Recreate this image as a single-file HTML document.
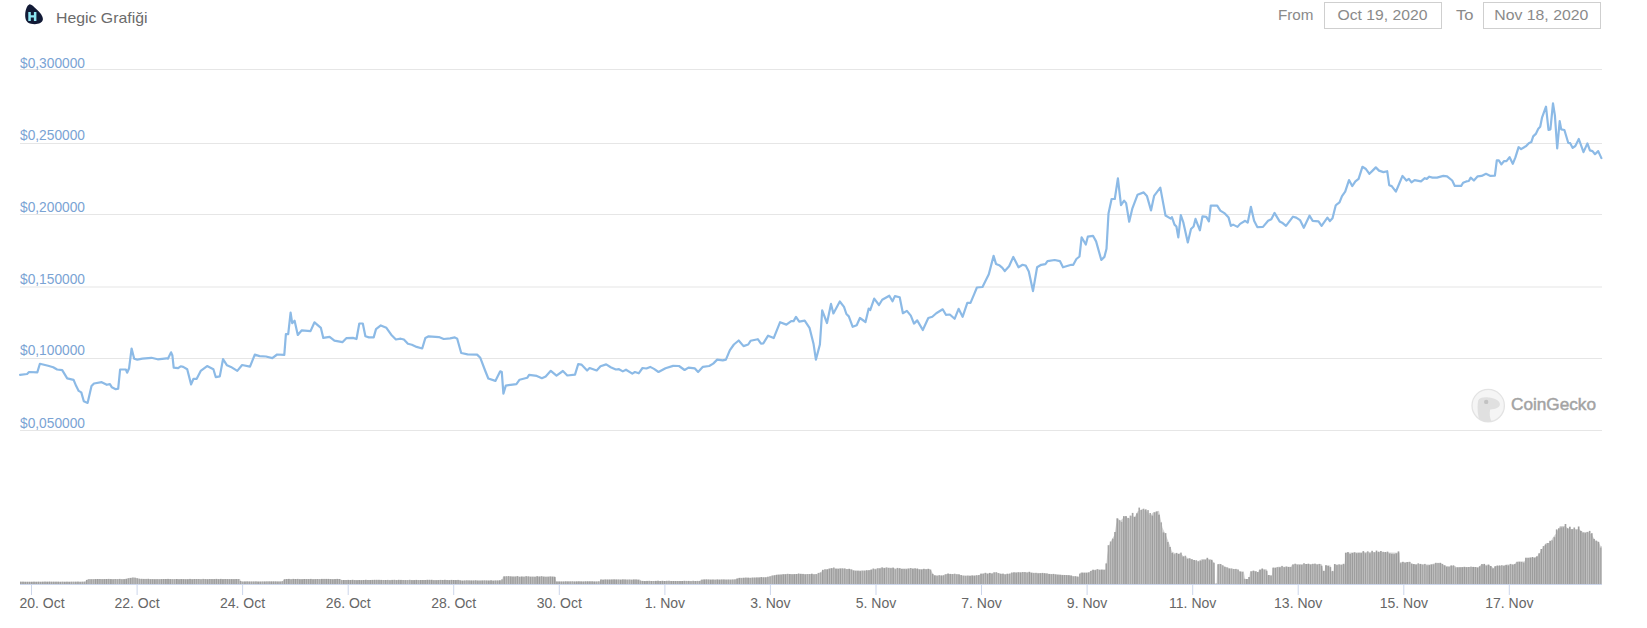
<!DOCTYPE html>
<html><head><meta charset="utf-8"><title>Hegic Grafiği</title>
<style>
html,body{margin:0;padding:0;background:#fff;}
body{width:1647px;height:628px;position:relative;overflow:hidden;font-family:"Liberation Sans", sans-serif;}
.t{position:absolute;white-space:nowrap;}
.box{position:absolute;top:2px;height:25px;width:116px;border:1px solid #cfcfcf;}
</style></head><body>
<svg width="60" height="30" style="position:absolute;left:0;top:0">
<path d="M29.3,4.4 C27.4,5 25.4,9.5 25.2,14 C25,18.5 25.8,22.6 31,23.8 C36,25 42.4,23.8 42.9,19.6 C43.3,16.2 40,12.5 36.5,9.3 C33.8,6.8 31.2,4 29.3,4.4 Z" fill="#121a36"/>
<path d="M28.3,11.9 h2.5 v3.4 h3.1 v-3.4 h2.5 v9.1 h-2.5 v-3.5 h-3.1 v3.5 h-2.5 Z" fill="#8fe6f3"/>
</svg>
<svg width="1647" height="40" style="position:absolute;left:0;top:0" font-family='"Liberation Sans", sans-serif'>
<text x="56" y="22.8" font-size="15" fill="#6b6b6b" textLength="91.5" lengthAdjust="spacingAndGlyphs">Hegic Grafiği</text>
<text x="1278" y="20" font-size="15" fill="#8a8a8a" textLength="35.5" lengthAdjust="spacingAndGlyphs">From</text>
<text x="1337.5" y="20" font-size="15" fill="#8a8a8a" textLength="90" lengthAdjust="spacingAndGlyphs">Oct 19, 2020</text>
<text x="1456" y="20" font-size="15" fill="#8a8a8a" textLength="17.5" lengthAdjust="spacingAndGlyphs">To</text>
<text x="1494.3" y="20" font-size="15" fill="#8a8a8a" textLength="94" lengthAdjust="spacingAndGlyphs">Nov 18, 2020</text>
</svg>
<div class="box" style="left:1324px"></div>
<div class="box" style="left:1483px"></div>
<svg width="1647" height="628" viewBox="0 0 1647 628" style="position:absolute;left:0;top:0" font-family='"Liberation Sans", sans-serif'>
<rect x="20" y="69.0" width="1582" height="1" fill="#e6e6e6"/>
<rect x="20" y="143.0" width="1582" height="1" fill="#e6e6e6"/>
<rect x="20" y="214.0" width="1582" height="1" fill="#e6e6e6"/>
<rect x="20" y="286.5" width="1582" height="1" fill="#e6e6e6"/>
<rect x="20" y="358.0" width="1582" height="1" fill="#e6e6e6"/>
<rect x="20" y="430.0" width="1582" height="1" fill="#e6e6e6"/>
<text x="20" y="67.6" font-size="15.3" fill="#7aa3d4" textLength="65" lengthAdjust="spacingAndGlyphs">$0,300000</text>
<text x="20" y="139.6" font-size="15.3" fill="#7aa3d4" textLength="65" lengthAdjust="spacingAndGlyphs">$0,250000</text>
<text x="20" y="211.7" font-size="15.3" fill="#7aa3d4" textLength="65" lengthAdjust="spacingAndGlyphs">$0,200000</text>
<text x="20" y="283.6" font-size="15.3" fill="#7aa3d4" textLength="65" lengthAdjust="spacingAndGlyphs">$0,150000</text>
<text x="20" y="355.0" font-size="15.3" fill="#7aa3d4" textLength="65" lengthAdjust="spacingAndGlyphs">$0,100000</text>
<text x="20" y="427.6" font-size="15.3" fill="#7aa3d4" textLength="65" lengthAdjust="spacingAndGlyphs">$0,050000</text>
<g>
<circle cx="1488.2" cy="405.6" r="16.2" fill="#f5f5f5" stroke="#e3e3e3" stroke-width="1.3"/>
<path d="M1478.2,400.5 C1479.5,397.2 1484.5,397 1489,397.6 C1494,398.2 1499.2,400.2 1499.9,403.8 C1500.4,407 1496,409.2 1490.2,409.6 C1489.2,413.5 1489.8,418 1491.6,421.6 C1487.5,422.6 1482,421.6 1479.2,419 C1477.4,414 1477.2,405 1478.2,400.5 Z" fill="#e0e0e0"/>
<circle cx="1486.2" cy="401.9" r="2.2" fill="#c2c2c2"/>
<text x="1511" y="410.3" font-size="16.3" fill="#a3a3a3" stroke="#a3a3a3" stroke-width="0.45" textLength="85" lengthAdjust="spacingAndGlyphs">CoinGecko</text>
</g>
<polygon points="20.0,584.0 20.0,581.7 85.0,581.7 88.0,579.1 125.0,579.1 130.0,577.8 135.0,577.4 140.0,579.0 170.0,579.1 240.0,579.1 241.0,581.5 282.0,581.5 285.0,579.1 340.0,579.1 342.0,580.0 460.0,580.0 461.0,580.5 502.0,580.5 503.0,576.5 555.0,576.5 556.0,581.4 600.0,581.4 601.0,579.6 640.0,579.6 641.0,580.9 700.0,580.9 701.0,579.6 735.0,579.6 740.0,577.8 750.0,577.7 768.0,577.0 777.0,574.6 786.0,574.0 816.0,574.0 817.0,574.6 823.0,570.4 830.0,568.2 841.0,568.2 845.0,569.1 852.0,569.1 853.0,570.4 868.0,570.4 874.0,569.1 881.0,567.7 892.0,567.7 896.0,568.6 914.0,568.6 916.0,569.1 930.0,569.1 932.0,571.9 934.0,575.5 943.0,575.5 945.0,574.0 959.0,574.0 961.0,575.5 978.0,575.5 983.0,573.3 992.0,573.3 994.0,571.9 1001.0,574.0 1009.0,574.0 1014.0,572.2 1029.0,572.2 1034.0,572.8 1040.0,573.1 1054.3,574.2 1068.7,575.2 1079.4,577.1 1080.1,573.1 1080.9,572.4 1088.7,572.4 1091.6,570.5 1095.9,569.5 1105.9,569.5 1107.1,555.9 1108.8,545.9 1111.7,539.4 1114.5,535.1 1116.0,525.1 1118.1,518.3 1120.3,520.8 1125.3,516.1 1128.9,519.3 1131.7,515.5 1134.6,517.2 1137.5,511.5 1142.5,508.9 1146.8,511.5 1150.4,515.8 1153.2,512.2 1159.0,510.7 1160.4,517.9 1162.6,527.9 1165.4,534.1 1167.6,539.4 1170.4,546.6 1171.9,551.6 1176.2,553.7 1180.5,553.3 1183.3,555.9 1190.5,559.0 1197.7,561.3 1202.0,559.0 1210.6,559.0 1214.2,563.1 1215.0,584.0 1216.6,584.0 1217.0,564.5 1219.9,563.8 1224.9,566.6 1230.7,568.5 1237.8,569.5 1240.0,571.4 1243.8,571.4 1245.0,579.0 1249.0,579.0 1250.2,571.0 1256.6,571.0 1257.9,573.3 1259.1,569.2 1266.8,569.2 1267.4,575.2 1271.9,575.2 1272.5,568.0 1278.3,566.7 1291.0,566.7 1292.3,564.1 1321.6,564.1 1322.9,570.8 1324.8,570.8 1325.2,565.4 1330.5,565.4 1331.2,571.4 1333.7,571.4 1334.1,564.6 1344.6,564.6 1345.8,552.7 1370.0,551.9 1399.4,552.7 1400.0,562.1 1410.9,562.1 1411.0,564.1 1430.0,564.5 1435.1,563.2 1441.5,563.2 1442.7,564.8 1446.6,566.1 1455.5,566.1 1456.0,567.1 1478.4,567.1 1481.0,564.8 1488.6,564.8 1493.7,568.0 1496.2,566.1 1501.3,566.1 1506.4,564.5 1514.1,564.5 1516.6,561.6 1524.3,561.6 1526.8,557.8 1534.5,557.8 1538.3,555.2 1542.1,548.9 1545.9,543.1 1549.7,543.1 1552.9,537.4 1556.1,533.6 1559.9,525.9 1565.0,525.9 1568.9,529.1 1575.2,529.1 1579.0,528.9 1582.9,531.9 1588.0,531.9 1591.8,534.8 1595.6,541.2 1598.2,541.2 1600.7,546.3 1602.0,546.3 1602.0,584.0" fill="#d2d2d2"/>
<g fill="#a0a0a0"><rect x="20.00" y="581.7" width="1.65" height="2.3" fill="#a0a0a0"/><rect x="22.20" y="581.7" width="1.65" height="2.3" fill="#9c9c9c"/><rect x="24.39" y="581.8" width="1.65" height="2.2" fill="#9e9e9e"/><rect x="26.59" y="581.8" width="1.65" height="2.2" fill="#9e9e9e"/><rect x="28.79" y="581.8" width="1.65" height="2.2" fill="#9e9e9e"/><rect x="30.99" y="581.8" width="1.65" height="2.2" fill="#9c9c9c"/><rect x="33.18" y="581.7" width="1.65" height="2.3" fill="#9c9c9c"/><rect x="35.38" y="581.8" width="1.65" height="2.2" fill="#9e9e9e"/><rect x="37.58" y="581.7" width="1.65" height="2.3" fill="#9e9e9e"/><rect x="39.78" y="581.8" width="1.65" height="2.2" fill="#a0a0a0"/><rect x="41.97" y="581.7" width="1.65" height="2.3" fill="#9e9e9e"/><rect x="44.17" y="581.6" width="1.65" height="2.4" fill="#9e9e9e"/><rect x="46.37" y="581.7" width="1.65" height="2.3" fill="#9c9c9c"/><rect x="48.56" y="581.6" width="1.65" height="2.4" fill="#9c9c9c"/><rect x="50.76" y="581.7" width="1.65" height="2.3" fill="#a0a0a0"/><rect x="52.96" y="581.7" width="1.65" height="2.3" fill="#a0a0a0"/><rect x="55.16" y="581.7" width="1.65" height="2.3" fill="#9e9e9e"/><rect x="57.35" y="581.7" width="1.65" height="2.3" fill="#a0a0a0"/><rect x="59.55" y="581.8" width="1.65" height="2.2" fill="#9e9e9e"/><rect x="61.75" y="581.7" width="1.65" height="2.3" fill="#a4a4a4"/><rect x="63.94" y="581.8" width="1.65" height="2.2" fill="#9c9c9c"/><rect x="66.14" y="581.7" width="1.65" height="2.3" fill="#9e9e9e"/><rect x="68.34" y="581.8" width="1.65" height="2.2" fill="#9e9e9e"/><rect x="70.54" y="581.7" width="1.65" height="2.3" fill="#a4a4a4"/><rect x="72.73" y="581.7" width="1.65" height="2.3" fill="#a8a8a8"/><rect x="74.93" y="581.7" width="1.65" height="2.3" fill="#a0a0a0"/><rect x="77.13" y="581.6" width="1.65" height="2.4" fill="#a0a0a0"/><rect x="79.33" y="581.8" width="1.65" height="2.2" fill="#a4a4a4"/><rect x="81.52" y="581.7" width="1.65" height="2.3" fill="#a4a4a4"/><rect x="83.72" y="581.6" width="1.65" height="2.4" fill="#a4a4a4"/><rect x="85.92" y="579.9" width="1.65" height="4.1" fill="#9c9c9c"/><rect x="88.11" y="579.3" width="1.65" height="4.7" fill="#a8a8a8"/><rect x="90.31" y="579.3" width="1.65" height="4.7" fill="#a4a4a4"/><rect x="92.51" y="579.3" width="1.65" height="4.7" fill="#a8a8a8"/><rect x="94.71" y="579.1" width="1.65" height="4.9" fill="#9c9c9c"/><rect x="96.90" y="579.0" width="1.65" height="5.0" fill="#9e9e9e"/><rect x="99.10" y="579.0" width="1.65" height="5.0" fill="#a4a4a4"/><rect x="101.30" y="579.2" width="1.65" height="4.8" fill="#a4a4a4"/><rect x="103.49" y="579.1" width="1.65" height="4.9" fill="#9e9e9e"/><rect x="105.69" y="579.0" width="1.65" height="5.0" fill="#9c9c9c"/><rect x="107.89" y="578.9" width="1.65" height="5.1" fill="#a4a4a4"/><rect x="110.09" y="579.1" width="1.65" height="4.9" fill="#9c9c9c"/><rect x="112.28" y="579.3" width="1.65" height="4.7" fill="#a4a4a4"/><rect x="114.48" y="579.0" width="1.65" height="5.0" fill="#a8a8a8"/><rect x="116.68" y="579.2" width="1.65" height="4.8" fill="#a8a8a8"/><rect x="118.88" y="578.9" width="1.65" height="5.1" fill="#a4a4a4"/><rect x="121.07" y="579.3" width="1.65" height="4.7" fill="#a8a8a8"/><rect x="123.27" y="579.2" width="1.65" height="4.8" fill="#9e9e9e"/><rect x="125.47" y="578.9" width="1.65" height="5.1" fill="#9c9c9c"/><rect x="127.66" y="578.3" width="1.65" height="5.7" fill="#a4a4a4"/><rect x="129.86" y="578.0" width="1.65" height="6.0" fill="#a0a0a0"/><rect x="132.06" y="577.6" width="1.65" height="6.4" fill="#a8a8a8"/><rect x="134.26" y="577.8" width="1.65" height="6.2" fill="#a8a8a8"/><rect x="136.45" y="578.3" width="1.65" height="5.7" fill="#a4a4a4"/><rect x="138.65" y="578.7" width="1.65" height="5.3" fill="#a8a8a8"/><rect x="140.85" y="578.8" width="1.65" height="5.2" fill="#a4a4a4"/><rect x="143.04" y="578.9" width="1.65" height="5.1" fill="#a4a4a4"/><rect x="145.24" y="578.9" width="1.65" height="5.1" fill="#a8a8a8"/><rect x="147.44" y="578.8" width="1.65" height="5.2" fill="#a0a0a0"/><rect x="149.64" y="579.2" width="1.65" height="4.8" fill="#a0a0a0"/><rect x="151.83" y="579.2" width="1.65" height="4.8" fill="#a0a0a0"/><rect x="154.03" y="579.3" width="1.65" height="4.7" fill="#9e9e9e"/><rect x="156.23" y="579.2" width="1.65" height="4.8" fill="#a4a4a4"/><rect x="158.43" y="579.3" width="1.65" height="4.7" fill="#a8a8a8"/><rect x="160.62" y="579.1" width="1.65" height="4.9" fill="#9e9e9e"/><rect x="162.82" y="579.0" width="1.65" height="5.0" fill="#a0a0a0"/><rect x="165.02" y="579.0" width="1.65" height="5.0" fill="#9e9e9e"/><rect x="167.21" y="578.9" width="1.65" height="5.1" fill="#9c9c9c"/><rect x="169.41" y="579.1" width="1.65" height="4.9" fill="#9e9e9e"/><rect x="171.61" y="579.2" width="1.65" height="4.8" fill="#a8a8a8"/><rect x="173.81" y="579.2" width="1.65" height="4.8" fill="#a8a8a8"/><rect x="176.00" y="579.0" width="1.65" height="5.0" fill="#9c9c9c"/><rect x="178.20" y="579.3" width="1.65" height="4.7" fill="#a0a0a0"/><rect x="180.40" y="579.1" width="1.65" height="4.9" fill="#9c9c9c"/><rect x="182.59" y="579.2" width="1.65" height="4.8" fill="#9c9c9c"/><rect x="184.79" y="579.3" width="1.65" height="4.7" fill="#9e9e9e"/><rect x="186.99" y="579.3" width="1.65" height="4.7" fill="#9c9c9c"/><rect x="189.19" y="578.9" width="1.65" height="5.1" fill="#9e9e9e"/><rect x="191.38" y="579.3" width="1.65" height="4.7" fill="#a0a0a0"/><rect x="193.58" y="579.0" width="1.65" height="5.0" fill="#a0a0a0"/><rect x="195.78" y="579.0" width="1.65" height="5.0" fill="#a4a4a4"/><rect x="197.98" y="579.0" width="1.65" height="5.0" fill="#a8a8a8"/><rect x="200.17" y="579.3" width="1.65" height="4.7" fill="#a8a8a8"/><rect x="202.37" y="578.9" width="1.65" height="5.1" fill="#a8a8a8"/><rect x="204.57" y="579.1" width="1.65" height="4.9" fill="#a4a4a4"/><rect x="206.76" y="579.3" width="1.65" height="4.7" fill="#9c9c9c"/><rect x="208.96" y="579.0" width="1.65" height="5.0" fill="#a4a4a4"/><rect x="211.16" y="579.1" width="1.65" height="4.9" fill="#a0a0a0"/><rect x="213.36" y="579.1" width="1.65" height="4.9" fill="#a0a0a0"/><rect x="215.55" y="578.9" width="1.65" height="5.1" fill="#9e9e9e"/><rect x="217.75" y="579.2" width="1.65" height="4.8" fill="#9e9e9e"/><rect x="219.95" y="578.9" width="1.65" height="5.1" fill="#9e9e9e"/><rect x="222.14" y="579.2" width="1.65" height="4.8" fill="#9c9c9c"/><rect x="224.34" y="579.0" width="1.65" height="5.0" fill="#a4a4a4"/><rect x="226.54" y="579.1" width="1.65" height="4.9" fill="#a0a0a0"/><rect x="228.74" y="579.2" width="1.65" height="4.8" fill="#a0a0a0"/><rect x="230.93" y="579.1" width="1.65" height="4.9" fill="#9e9e9e"/><rect x="233.13" y="579.2" width="1.65" height="4.8" fill="#a0a0a0"/><rect x="235.33" y="579.0" width="1.65" height="5.0" fill="#a0a0a0"/><rect x="237.53" y="579.0" width="1.65" height="5.0" fill="#a8a8a8"/><rect x="239.72" y="581.0" width="1.65" height="3.0" fill="#a0a0a0"/><rect x="241.92" y="581.6" width="1.65" height="2.4" fill="#a8a8a8"/><rect x="244.12" y="581.5" width="1.65" height="2.5" fill="#9c9c9c"/><rect x="246.31" y="581.4" width="1.65" height="2.6" fill="#a4a4a4"/><rect x="248.51" y="581.5" width="1.65" height="2.5" fill="#a0a0a0"/><rect x="250.71" y="581.5" width="1.65" height="2.5" fill="#a4a4a4"/><rect x="252.91" y="581.5" width="1.65" height="2.5" fill="#a4a4a4"/><rect x="255.10" y="581.4" width="1.65" height="2.6" fill="#a4a4a4"/><rect x="257.30" y="581.6" width="1.65" height="2.4" fill="#9c9c9c"/><rect x="259.50" y="581.6" width="1.65" height="2.4" fill="#a0a0a0"/><rect x="261.69" y="581.5" width="1.65" height="2.5" fill="#a8a8a8"/><rect x="263.89" y="581.5" width="1.65" height="2.5" fill="#9e9e9e"/><rect x="266.09" y="581.4" width="1.65" height="2.6" fill="#a8a8a8"/><rect x="268.29" y="581.4" width="1.65" height="2.6" fill="#a4a4a4"/><rect x="270.48" y="581.4" width="1.65" height="2.6" fill="#9c9c9c"/><rect x="272.68" y="581.4" width="1.65" height="2.6" fill="#9c9c9c"/><rect x="274.88" y="581.4" width="1.65" height="2.6" fill="#a0a0a0"/><rect x="277.08" y="581.5" width="1.65" height="2.5" fill="#a0a0a0"/><rect x="279.27" y="581.5" width="1.65" height="2.5" fill="#a4a4a4"/><rect x="281.47" y="581.2" width="1.65" height="2.8" fill="#a8a8a8"/><rect x="283.67" y="579.3" width="1.65" height="4.7" fill="#9c9c9c"/><rect x="285.86" y="579.0" width="1.65" height="5.0" fill="#a0a0a0"/><rect x="288.06" y="578.9" width="1.65" height="5.1" fill="#9c9c9c"/><rect x="290.26" y="579.3" width="1.65" height="4.7" fill="#a8a8a8"/><rect x="292.46" y="578.9" width="1.65" height="5.1" fill="#a0a0a0"/><rect x="294.65" y="579.0" width="1.65" height="5.0" fill="#9e9e9e"/><rect x="296.85" y="578.9" width="1.65" height="5.1" fill="#a4a4a4"/><rect x="299.05" y="579.3" width="1.65" height="4.7" fill="#9e9e9e"/><rect x="301.24" y="579.3" width="1.65" height="4.7" fill="#9c9c9c"/><rect x="303.44" y="579.0" width="1.65" height="5.0" fill="#9c9c9c"/><rect x="305.64" y="579.1" width="1.65" height="4.9" fill="#a0a0a0"/><rect x="307.84" y="579.1" width="1.65" height="4.9" fill="#a0a0a0"/><rect x="310.03" y="578.9" width="1.65" height="5.1" fill="#a0a0a0"/><rect x="312.23" y="579.3" width="1.65" height="4.7" fill="#a0a0a0"/><rect x="314.43" y="579.2" width="1.65" height="4.8" fill="#a0a0a0"/><rect x="316.62" y="579.0" width="1.65" height="5.0" fill="#a4a4a4"/><rect x="318.82" y="579.2" width="1.65" height="4.8" fill="#a8a8a8"/><rect x="321.02" y="578.9" width="1.65" height="5.1" fill="#9c9c9c"/><rect x="323.22" y="578.9" width="1.65" height="5.1" fill="#a4a4a4"/><rect x="325.41" y="578.9" width="1.65" height="5.1" fill="#9e9e9e"/><rect x="327.61" y="578.9" width="1.65" height="5.1" fill="#9e9e9e"/><rect x="329.81" y="579.1" width="1.65" height="4.9" fill="#9e9e9e"/><rect x="332.01" y="579.3" width="1.65" height="4.7" fill="#a0a0a0"/><rect x="334.20" y="579.1" width="1.65" height="4.9" fill="#9c9c9c"/><rect x="336.40" y="578.9" width="1.65" height="5.1" fill="#a0a0a0"/><rect x="338.60" y="579.0" width="1.65" height="5.0" fill="#a0a0a0"/><rect x="340.79" y="580.1" width="1.65" height="3.9" fill="#a8a8a8"/><rect x="342.99" y="580.0" width="1.65" height="4.0" fill="#9c9c9c"/><rect x="345.19" y="580.0" width="1.65" height="4.0" fill="#a4a4a4"/><rect x="347.39" y="579.9" width="1.65" height="4.1" fill="#9e9e9e"/><rect x="349.58" y="580.0" width="1.65" height="4.0" fill="#9c9c9c"/><rect x="351.78" y="579.8" width="1.65" height="4.2" fill="#9c9c9c"/><rect x="353.98" y="580.1" width="1.65" height="3.9" fill="#a4a4a4"/><rect x="356.18" y="580.2" width="1.65" height="3.8" fill="#9c9c9c"/><rect x="358.37" y="580.0" width="1.65" height="4.0" fill="#9e9e9e"/><rect x="360.57" y="580.2" width="1.65" height="3.8" fill="#9c9c9c"/><rect x="362.77" y="580.0" width="1.65" height="4.0" fill="#9e9e9e"/><rect x="364.96" y="579.8" width="1.65" height="4.2" fill="#9e9e9e"/><rect x="367.16" y="580.0" width="1.65" height="4.0" fill="#a4a4a4"/><rect x="369.36" y="580.0" width="1.65" height="4.0" fill="#9e9e9e"/><rect x="371.56" y="579.9" width="1.65" height="4.1" fill="#9e9e9e"/><rect x="373.75" y="579.8" width="1.65" height="4.2" fill="#9e9e9e"/><rect x="375.95" y="579.8" width="1.65" height="4.2" fill="#a4a4a4"/><rect x="378.15" y="579.8" width="1.65" height="4.2" fill="#a0a0a0"/><rect x="380.34" y="579.9" width="1.65" height="4.1" fill="#a0a0a0"/><rect x="382.54" y="580.0" width="1.65" height="4.0" fill="#a8a8a8"/><rect x="384.74" y="580.0" width="1.65" height="4.0" fill="#9c9c9c"/><rect x="386.94" y="579.9" width="1.65" height="4.1" fill="#a8a8a8"/><rect x="389.13" y="580.2" width="1.65" height="3.8" fill="#a4a4a4"/><rect x="391.33" y="579.9" width="1.65" height="4.1" fill="#a0a0a0"/><rect x="393.53" y="579.8" width="1.65" height="4.2" fill="#a4a4a4"/><rect x="395.73" y="580.1" width="1.65" height="3.9" fill="#a0a0a0"/><rect x="397.92" y="579.8" width="1.65" height="4.2" fill="#a0a0a0"/><rect x="400.12" y="579.9" width="1.65" height="4.1" fill="#9c9c9c"/><rect x="402.32" y="580.0" width="1.65" height="4.0" fill="#a8a8a8"/><rect x="404.51" y="580.1" width="1.65" height="3.9" fill="#a0a0a0"/><rect x="406.71" y="580.1" width="1.65" height="3.9" fill="#a8a8a8"/><rect x="408.91" y="579.8" width="1.65" height="4.2" fill="#a8a8a8"/><rect x="411.11" y="580.1" width="1.65" height="3.9" fill="#a0a0a0"/><rect x="413.30" y="580.1" width="1.65" height="3.9" fill="#9c9c9c"/><rect x="415.50" y="579.9" width="1.65" height="4.1" fill="#9c9c9c"/><rect x="417.70" y="580.1" width="1.65" height="3.9" fill="#a8a8a8"/><rect x="419.89" y="580.0" width="1.65" height="4.0" fill="#9c9c9c"/><rect x="422.09" y="580.0" width="1.65" height="4.0" fill="#9e9e9e"/><rect x="424.29" y="580.0" width="1.65" height="4.0" fill="#9e9e9e"/><rect x="426.49" y="579.8" width="1.65" height="4.2" fill="#9c9c9c"/><rect x="428.68" y="579.8" width="1.65" height="4.2" fill="#a0a0a0"/><rect x="430.88" y="579.8" width="1.65" height="4.2" fill="#9c9c9c"/><rect x="433.08" y="580.2" width="1.65" height="3.8" fill="#a4a4a4"/><rect x="435.28" y="580.2" width="1.65" height="3.8" fill="#a0a0a0"/><rect x="437.47" y="580.1" width="1.65" height="3.9" fill="#a0a0a0"/><rect x="439.67" y="579.9" width="1.65" height="4.1" fill="#a4a4a4"/><rect x="441.87" y="580.0" width="1.65" height="4.0" fill="#9e9e9e"/><rect x="444.06" y="579.8" width="1.65" height="4.2" fill="#9e9e9e"/><rect x="446.26" y="580.0" width="1.65" height="4.0" fill="#a4a4a4"/><rect x="448.46" y="580.2" width="1.65" height="3.8" fill="#9c9c9c"/><rect x="450.66" y="579.9" width="1.65" height="4.1" fill="#a0a0a0"/><rect x="452.85" y="580.0" width="1.65" height="4.0" fill="#9c9c9c"/><rect x="455.05" y="580.1" width="1.65" height="3.9" fill="#9c9c9c"/><rect x="457.25" y="579.9" width="1.65" height="4.1" fill="#a4a4a4"/><rect x="459.44" y="580.4" width="1.65" height="3.6" fill="#a0a0a0"/><rect x="461.64" y="580.7" width="1.65" height="3.3" fill="#9c9c9c"/><rect x="463.84" y="580.5" width="1.65" height="3.5" fill="#a4a4a4"/><rect x="466.04" y="580.3" width="1.65" height="3.7" fill="#a8a8a8"/><rect x="468.23" y="580.4" width="1.65" height="3.6" fill="#a4a4a4"/><rect x="470.43" y="580.5" width="1.65" height="3.5" fill="#9c9c9c"/><rect x="472.63" y="580.5" width="1.65" height="3.5" fill="#a0a0a0"/><rect x="474.83" y="580.3" width="1.65" height="3.7" fill="#a0a0a0"/><rect x="477.02" y="580.6" width="1.65" height="3.4" fill="#a0a0a0"/><rect x="479.22" y="580.6" width="1.65" height="3.4" fill="#a4a4a4"/><rect x="481.42" y="580.5" width="1.65" height="3.5" fill="#9e9e9e"/><rect x="483.61" y="580.4" width="1.65" height="3.6" fill="#a4a4a4"/><rect x="485.81" y="580.5" width="1.65" height="3.5" fill="#a0a0a0"/><rect x="488.01" y="580.6" width="1.65" height="3.4" fill="#9c9c9c"/><rect x="490.21" y="580.3" width="1.65" height="3.7" fill="#9c9c9c"/><rect x="492.40" y="580.7" width="1.65" height="3.3" fill="#9e9e9e"/><rect x="494.60" y="580.5" width="1.65" height="3.5" fill="#a0a0a0"/><rect x="496.80" y="580.5" width="1.65" height="3.5" fill="#a0a0a0"/><rect x="498.99" y="580.3" width="1.65" height="3.7" fill="#9c9c9c"/><rect x="501.19" y="579.3" width="1.65" height="4.7" fill="#a8a8a8"/><rect x="503.39" y="576.4" width="1.65" height="7.6" fill="#9e9e9e"/><rect x="505.59" y="576.2" width="1.65" height="7.8" fill="#a8a8a8"/><rect x="507.78" y="576.1" width="1.65" height="7.9" fill="#a4a4a4"/><rect x="509.98" y="576.4" width="1.65" height="7.6" fill="#a0a0a0"/><rect x="512.18" y="576.6" width="1.65" height="7.4" fill="#a0a0a0"/><rect x="514.38" y="576.6" width="1.65" height="7.4" fill="#a4a4a4"/><rect x="516.57" y="576.1" width="1.65" height="7.9" fill="#a0a0a0"/><rect x="518.77" y="576.9" width="1.65" height="7.1" fill="#a4a4a4"/><rect x="520.97" y="576.6" width="1.65" height="7.4" fill="#9c9c9c"/><rect x="523.16" y="576.8" width="1.65" height="7.2" fill="#a8a8a8"/><rect x="525.36" y="576.2" width="1.65" height="7.8" fill="#a4a4a4"/><rect x="527.56" y="576.4" width="1.65" height="7.6" fill="#a4a4a4"/><rect x="529.76" y="576.8" width="1.65" height="7.2" fill="#a0a0a0"/><rect x="531.95" y="576.8" width="1.65" height="7.2" fill="#a8a8a8"/><rect x="534.15" y="576.9" width="1.65" height="7.1" fill="#a4a4a4"/><rect x="536.35" y="576.2" width="1.65" height="7.8" fill="#9e9e9e"/><rect x="538.54" y="576.6" width="1.65" height="7.4" fill="#9c9c9c"/><rect x="540.74" y="576.2" width="1.65" height="7.8" fill="#a4a4a4"/><rect x="542.94" y="576.7" width="1.65" height="7.3" fill="#a0a0a0"/><rect x="545.14" y="576.9" width="1.65" height="7.1" fill="#a8a8a8"/><rect x="547.33" y="576.8" width="1.65" height="7.2" fill="#a4a4a4"/><rect x="549.53" y="576.5" width="1.65" height="7.5" fill="#a0a0a0"/><rect x="551.73" y="576.7" width="1.65" height="7.3" fill="#9c9c9c"/><rect x="553.93" y="576.9" width="1.65" height="7.1" fill="#9c9c9c"/><rect x="556.12" y="581.5" width="1.65" height="2.5" fill="#9e9e9e"/><rect x="558.32" y="581.5" width="1.65" height="2.5" fill="#9c9c9c"/><rect x="560.52" y="581.5" width="1.65" height="2.5" fill="#a0a0a0"/><rect x="562.71" y="581.5" width="1.65" height="2.5" fill="#9e9e9e"/><rect x="564.91" y="581.3" width="1.65" height="2.7" fill="#a0a0a0"/><rect x="567.11" y="581.4" width="1.65" height="2.6" fill="#9e9e9e"/><rect x="569.31" y="581.4" width="1.65" height="2.6" fill="#a4a4a4"/><rect x="571.50" y="581.3" width="1.65" height="2.7" fill="#a8a8a8"/><rect x="573.70" y="581.5" width="1.65" height="2.5" fill="#9e9e9e"/><rect x="575.90" y="581.4" width="1.65" height="2.6" fill="#9c9c9c"/><rect x="578.09" y="581.3" width="1.65" height="2.7" fill="#9e9e9e"/><rect x="580.29" y="581.4" width="1.65" height="2.6" fill="#9e9e9e"/><rect x="582.49" y="581.5" width="1.65" height="2.5" fill="#9e9e9e"/><rect x="584.69" y="581.3" width="1.65" height="2.7" fill="#9e9e9e"/><rect x="586.88" y="581.3" width="1.65" height="2.7" fill="#9c9c9c"/><rect x="589.08" y="581.3" width="1.65" height="2.7" fill="#9e9e9e"/><rect x="591.28" y="581.3" width="1.65" height="2.7" fill="#a0a0a0"/><rect x="593.48" y="581.5" width="1.65" height="2.5" fill="#9c9c9c"/><rect x="595.67" y="581.5" width="1.65" height="2.5" fill="#a4a4a4"/><rect x="597.87" y="581.3" width="1.65" height="2.7" fill="#a8a8a8"/><rect x="600.07" y="579.5" width="1.65" height="4.5" fill="#9e9e9e"/><rect x="602.26" y="579.8" width="1.65" height="4.2" fill="#9c9c9c"/><rect x="604.46" y="579.5" width="1.65" height="4.5" fill="#a0a0a0"/><rect x="606.66" y="579.6" width="1.65" height="4.4" fill="#9c9c9c"/><rect x="608.86" y="579.6" width="1.65" height="4.4" fill="#9c9c9c"/><rect x="611.05" y="579.5" width="1.65" height="4.5" fill="#9e9e9e"/><rect x="613.25" y="579.4" width="1.65" height="4.6" fill="#9c9c9c"/><rect x="615.45" y="579.5" width="1.65" height="4.5" fill="#9c9c9c"/><rect x="617.64" y="579.5" width="1.65" height="4.5" fill="#a8a8a8"/><rect x="619.84" y="579.7" width="1.65" height="4.3" fill="#9c9c9c"/><rect x="622.04" y="579.4" width="1.65" height="4.6" fill="#a0a0a0"/><rect x="624.24" y="579.5" width="1.65" height="4.5" fill="#a0a0a0"/><rect x="626.43" y="579.7" width="1.65" height="4.3" fill="#a8a8a8"/><rect x="628.63" y="579.6" width="1.65" height="4.4" fill="#a8a8a8"/><rect x="630.83" y="579.8" width="1.65" height="4.2" fill="#a4a4a4"/><rect x="633.03" y="579.5" width="1.65" height="4.5" fill="#9e9e9e"/><rect x="635.22" y="579.5" width="1.65" height="4.5" fill="#a0a0a0"/><rect x="637.42" y="579.8" width="1.65" height="4.2" fill="#a0a0a0"/><rect x="639.62" y="580.6" width="1.65" height="3.4" fill="#a4a4a4"/><rect x="641.81" y="580.9" width="1.65" height="3.1" fill="#a0a0a0"/><rect x="644.01" y="581.1" width="1.65" height="2.9" fill="#9c9c9c"/><rect x="646.21" y="580.9" width="1.65" height="3.1" fill="#9c9c9c"/><rect x="648.41" y="580.8" width="1.65" height="3.2" fill="#a8a8a8"/><rect x="650.60" y="581.0" width="1.65" height="3.0" fill="#9e9e9e"/><rect x="652.80" y="581.0" width="1.65" height="3.0" fill="#a8a8a8"/><rect x="655.00" y="580.9" width="1.65" height="3.1" fill="#9c9c9c"/><rect x="657.19" y="580.7" width="1.65" height="3.3" fill="#9e9e9e"/><rect x="659.39" y="581.0" width="1.65" height="3.0" fill="#9c9c9c"/><rect x="661.59" y="580.8" width="1.65" height="3.2" fill="#9c9c9c"/><rect x="663.79" y="581.0" width="1.65" height="3.0" fill="#9c9c9c"/><rect x="665.98" y="580.8" width="1.65" height="3.2" fill="#a8a8a8"/><rect x="668.18" y="580.7" width="1.65" height="3.3" fill="#a8a8a8"/><rect x="670.38" y="581.0" width="1.65" height="3.0" fill="#a0a0a0"/><rect x="672.58" y="581.0" width="1.65" height="3.0" fill="#9c9c9c"/><rect x="674.77" y="581.0" width="1.65" height="3.0" fill="#9e9e9e"/><rect x="676.97" y="581.0" width="1.65" height="3.0" fill="#a4a4a4"/><rect x="679.17" y="581.0" width="1.65" height="3.0" fill="#9e9e9e"/><rect x="681.36" y="581.0" width="1.65" height="3.0" fill="#9c9c9c"/><rect x="683.56" y="580.8" width="1.65" height="3.2" fill="#a0a0a0"/><rect x="685.76" y="580.9" width="1.65" height="3.1" fill="#a8a8a8"/><rect x="687.96" y="580.9" width="1.65" height="3.1" fill="#a0a0a0"/><rect x="690.15" y="581.1" width="1.65" height="2.9" fill="#a8a8a8"/><rect x="692.35" y="580.8" width="1.65" height="3.2" fill="#a8a8a8"/><rect x="694.55" y="581.0" width="1.65" height="3.0" fill="#a0a0a0"/><rect x="696.74" y="580.9" width="1.65" height="3.1" fill="#a8a8a8"/><rect x="698.94" y="580.9" width="1.65" height="3.1" fill="#a4a4a4"/><rect x="701.14" y="579.8" width="1.65" height="4.2" fill="#a4a4a4"/><rect x="703.34" y="579.5" width="1.65" height="4.5" fill="#9c9c9c"/><rect x="705.53" y="579.4" width="1.65" height="4.6" fill="#a0a0a0"/><rect x="707.73" y="579.5" width="1.65" height="4.5" fill="#a4a4a4"/><rect x="709.93" y="579.7" width="1.65" height="4.3" fill="#9c9c9c"/><rect x="712.13" y="579.6" width="1.65" height="4.4" fill="#9e9e9e"/><rect x="714.32" y="579.8" width="1.65" height="4.2" fill="#a8a8a8"/><rect x="716.52" y="579.5" width="1.65" height="4.5" fill="#9c9c9c"/><rect x="718.72" y="579.7" width="1.65" height="4.3" fill="#9c9c9c"/><rect x="720.91" y="579.5" width="1.65" height="4.5" fill="#a4a4a4"/><rect x="723.11" y="579.5" width="1.65" height="4.5" fill="#a0a0a0"/><rect x="725.31" y="579.7" width="1.65" height="4.3" fill="#a4a4a4"/><rect x="727.51" y="579.6" width="1.65" height="4.4" fill="#a4a4a4"/><rect x="729.70" y="579.7" width="1.65" height="4.3" fill="#a4a4a4"/><rect x="731.90" y="579.5" width="1.65" height="4.5" fill="#a8a8a8"/><rect x="734.10" y="579.4" width="1.65" height="4.6" fill="#a8a8a8"/><rect x="736.29" y="578.5" width="1.65" height="5.5" fill="#9e9e9e"/><rect x="738.49" y="577.9" width="1.65" height="6.1" fill="#9c9c9c"/><rect x="740.69" y="578.1" width="1.65" height="5.9" fill="#a8a8a8"/><rect x="742.89" y="577.8" width="1.65" height="6.2" fill="#a0a0a0"/><rect x="745.08" y="577.6" width="1.65" height="6.4" fill="#a4a4a4"/><rect x="747.28" y="577.7" width="1.65" height="6.3" fill="#9e9e9e"/><rect x="749.48" y="577.9" width="1.65" height="6.1" fill="#a8a8a8"/><rect x="751.68" y="577.6" width="1.65" height="6.4" fill="#a4a4a4"/><rect x="753.87" y="577.6" width="1.65" height="6.4" fill="#a4a4a4"/><rect x="756.07" y="577.5" width="1.65" height="6.5" fill="#a0a0a0"/><rect x="758.27" y="577.5" width="1.65" height="6.5" fill="#9e9e9e"/><rect x="760.46" y="577.1" width="1.65" height="6.9" fill="#9c9c9c"/><rect x="762.66" y="577.4" width="1.65" height="6.6" fill="#a0a0a0"/><rect x="764.86" y="577.4" width="1.65" height="6.6" fill="#9e9e9e"/><rect x="767.06" y="576.7" width="1.65" height="7.3" fill="#a8a8a8"/><rect x="769.25" y="576.3" width="1.65" height="7.7" fill="#a8a8a8"/><rect x="771.45" y="575.5" width="1.65" height="8.5" fill="#a8a8a8"/><rect x="773.65" y="575.3" width="1.65" height="8.7" fill="#9e9e9e"/><rect x="775.84" y="574.9" width="1.65" height="9.1" fill="#9c9c9c"/><rect x="778.04" y="574.8" width="1.65" height="9.2" fill="#9e9e9e"/><rect x="780.24" y="574.7" width="1.65" height="9.3" fill="#a0a0a0"/><rect x="782.44" y="574.3" width="1.65" height="9.7" fill="#9e9e9e"/><rect x="784.63" y="574.3" width="1.65" height="9.7" fill="#9c9c9c"/><rect x="786.83" y="573.8" width="1.65" height="10.2" fill="#a8a8a8"/><rect x="789.03" y="574.1" width="1.65" height="9.9" fill="#9e9e9e"/><rect x="791.23" y="574.3" width="1.65" height="9.7" fill="#a4a4a4"/><rect x="793.42" y="574.2" width="1.65" height="9.8" fill="#9c9c9c"/><rect x="795.62" y="574.0" width="1.65" height="10.0" fill="#9e9e9e"/><rect x="797.82" y="573.5" width="1.65" height="10.5" fill="#a0a0a0"/><rect x="800.01" y="573.8" width="1.65" height="10.2" fill="#9e9e9e"/><rect x="802.21" y="573.9" width="1.65" height="10.1" fill="#a0a0a0"/><rect x="804.41" y="574.4" width="1.65" height="9.6" fill="#a0a0a0"/><rect x="806.61" y="574.1" width="1.65" height="9.9" fill="#a8a8a8"/><rect x="808.80" y="574.1" width="1.65" height="9.9" fill="#a4a4a4"/><rect x="811.00" y="573.7" width="1.65" height="10.3" fill="#9c9c9c"/><rect x="813.20" y="574.4" width="1.65" height="9.6" fill="#a8a8a8"/><rect x="815.39" y="574.1" width="1.65" height="9.9" fill="#a8a8a8"/><rect x="817.59" y="572.9" width="1.65" height="11.1" fill="#a8a8a8"/><rect x="819.79" y="572.5" width="1.65" height="11.5" fill="#a8a8a8"/><rect x="821.99" y="569.8" width="1.65" height="14.2" fill="#9e9e9e"/><rect x="824.18" y="569.2" width="1.65" height="14.8" fill="#a8a8a8"/><rect x="826.38" y="569.4" width="1.65" height="14.6" fill="#9c9c9c"/><rect x="828.58" y="568.7" width="1.65" height="15.3" fill="#a0a0a0"/><rect x="830.78" y="568.2" width="1.65" height="15.8" fill="#9c9c9c"/><rect x="832.97" y="567.5" width="1.65" height="16.5" fill="#a8a8a8"/><rect x="835.17" y="568.9" width="1.65" height="15.1" fill="#9c9c9c"/><rect x="837.37" y="569.0" width="1.65" height="15.0" fill="#a0a0a0"/><rect x="839.56" y="568.6" width="1.65" height="15.4" fill="#9c9c9c"/><rect x="841.76" y="568.4" width="1.65" height="15.6" fill="#a4a4a4"/><rect x="843.96" y="568.4" width="1.65" height="15.6" fill="#a4a4a4"/><rect x="846.16" y="569.1" width="1.65" height="14.9" fill="#a8a8a8"/><rect x="848.35" y="568.8" width="1.65" height="15.2" fill="#9c9c9c"/><rect x="850.55" y="569.7" width="1.65" height="14.3" fill="#a4a4a4"/><rect x="852.75" y="570.4" width="1.65" height="13.6" fill="#9e9e9e"/><rect x="854.94" y="570.8" width="1.65" height="13.2" fill="#a4a4a4"/><rect x="857.14" y="570.8" width="1.65" height="13.2" fill="#9e9e9e"/><rect x="859.34" y="571.1" width="1.65" height="12.9" fill="#9e9e9e"/><rect x="861.54" y="570.7" width="1.65" height="13.3" fill="#a8a8a8"/><rect x="863.73" y="570.7" width="1.65" height="13.3" fill="#a4a4a4"/><rect x="865.93" y="570.2" width="1.65" height="13.8" fill="#a0a0a0"/><rect x="868.13" y="570.2" width="1.65" height="13.8" fill="#a0a0a0"/><rect x="870.33" y="569.6" width="1.65" height="14.4" fill="#9c9c9c"/><rect x="872.52" y="568.5" width="1.65" height="15.5" fill="#a4a4a4"/><rect x="874.72" y="569.4" width="1.65" height="14.6" fill="#a0a0a0"/><rect x="876.92" y="568.3" width="1.65" height="15.7" fill="#a8a8a8"/><rect x="879.11" y="568.5" width="1.65" height="15.5" fill="#a0a0a0"/><rect x="881.31" y="567.4" width="1.65" height="16.6" fill="#a4a4a4"/><rect x="883.51" y="568.1" width="1.65" height="15.9" fill="#9c9c9c"/><rect x="885.71" y="567.4" width="1.65" height="16.6" fill="#a8a8a8"/><rect x="887.90" y="567.9" width="1.65" height="16.1" fill="#a8a8a8"/><rect x="890.10" y="568.2" width="1.65" height="15.8" fill="#a4a4a4"/><rect x="892.30" y="567.6" width="1.65" height="16.4" fill="#9e9e9e"/><rect x="894.49" y="569.2" width="1.65" height="14.8" fill="#a8a8a8"/><rect x="896.69" y="567.9" width="1.65" height="16.1" fill="#a4a4a4"/><rect x="898.89" y="568.2" width="1.65" height="15.8" fill="#a0a0a0"/><rect x="901.09" y="569.0" width="1.65" height="15.0" fill="#a0a0a0"/><rect x="903.28" y="569.0" width="1.65" height="15.0" fill="#a4a4a4"/><rect x="905.48" y="569.2" width="1.65" height="14.8" fill="#9e9e9e"/><rect x="907.68" y="568.6" width="1.65" height="15.4" fill="#a0a0a0"/><rect x="909.88" y="568.0" width="1.65" height="16.0" fill="#a8a8a8"/><rect x="912.07" y="568.7" width="1.65" height="15.3" fill="#9c9c9c"/><rect x="914.27" y="568.3" width="1.65" height="15.7" fill="#a0a0a0"/><rect x="916.47" y="568.5" width="1.65" height="15.5" fill="#9c9c9c"/><rect x="918.66" y="569.5" width="1.65" height="14.5" fill="#9e9e9e"/><rect x="920.86" y="569.6" width="1.65" height="14.4" fill="#9c9c9c"/><rect x="923.06" y="568.8" width="1.65" height="15.2" fill="#a0a0a0"/><rect x="925.26" y="569.3" width="1.65" height="14.7" fill="#a4a4a4"/><rect x="927.45" y="568.8" width="1.65" height="15.2" fill="#9c9c9c"/><rect x="929.65" y="569.6" width="1.65" height="14.4" fill="#a4a4a4"/><rect x="931.85" y="573.9" width="1.65" height="10.1" fill="#9e9e9e"/><rect x="934.04" y="575.3" width="1.65" height="8.7" fill="#9c9c9c"/><rect x="936.24" y="575.7" width="1.65" height="8.3" fill="#a8a8a8"/><rect x="938.44" y="575.2" width="1.65" height="8.8" fill="#a4a4a4"/><rect x="940.64" y="575.5" width="1.65" height="8.5" fill="#9c9c9c"/><rect x="942.83" y="575.3" width="1.65" height="8.7" fill="#a4a4a4"/><rect x="945.03" y="574.4" width="1.65" height="9.6" fill="#a8a8a8"/><rect x="947.23" y="573.5" width="1.65" height="10.5" fill="#9c9c9c"/><rect x="949.43" y="573.9" width="1.65" height="10.1" fill="#a0a0a0"/><rect x="951.62" y="574.1" width="1.65" height="9.9" fill="#a4a4a4"/><rect x="953.82" y="573.7" width="1.65" height="10.3" fill="#a8a8a8"/><rect x="956.02" y="574.4" width="1.65" height="9.6" fill="#a8a8a8"/><rect x="958.21" y="574.5" width="1.65" height="9.5" fill="#9e9e9e"/><rect x="960.41" y="575.1" width="1.65" height="8.9" fill="#a0a0a0"/><rect x="962.61" y="575.7" width="1.65" height="8.3" fill="#a8a8a8"/><rect x="964.81" y="575.9" width="1.65" height="8.1" fill="#a8a8a8"/><rect x="967.00" y="575.7" width="1.65" height="8.3" fill="#a8a8a8"/><rect x="969.20" y="575.9" width="1.65" height="8.1" fill="#9c9c9c"/><rect x="971.40" y="575.5" width="1.65" height="8.5" fill="#9c9c9c"/><rect x="973.59" y="575.7" width="1.65" height="8.3" fill="#9c9c9c"/><rect x="975.79" y="575.2" width="1.65" height="8.8" fill="#a4a4a4"/><rect x="977.99" y="575.1" width="1.65" height="8.9" fill="#a4a4a4"/><rect x="980.19" y="573.6" width="1.65" height="10.4" fill="#9e9e9e"/><rect x="982.38" y="573.8" width="1.65" height="10.2" fill="#a4a4a4"/><rect x="984.58" y="572.8" width="1.65" height="11.2" fill="#a4a4a4"/><rect x="986.78" y="573.8" width="1.65" height="10.2" fill="#9e9e9e"/><rect x="988.98" y="572.9" width="1.65" height="11.1" fill="#9c9c9c"/><rect x="991.17" y="573.6" width="1.65" height="10.4" fill="#a0a0a0"/><rect x="993.37" y="572.5" width="1.65" height="11.5" fill="#a8a8a8"/><rect x="995.57" y="572.2" width="1.65" height="11.8" fill="#a8a8a8"/><rect x="997.76" y="573.1" width="1.65" height="10.9" fill="#a8a8a8"/><rect x="999.96" y="573.7" width="1.65" height="10.3" fill="#a0a0a0"/><rect x="1002.16" y="573.6" width="1.65" height="10.4" fill="#a0a0a0"/><rect x="1004.36" y="574.5" width="1.65" height="9.5" fill="#a4a4a4"/><rect x="1006.55" y="573.7" width="1.65" height="10.3" fill="#a0a0a0"/><rect x="1008.75" y="573.6" width="1.65" height="10.4" fill="#a4a4a4"/><rect x="1010.95" y="572.5" width="1.65" height="11.5" fill="#a8a8a8"/><rect x="1013.14" y="572.4" width="1.65" height="11.6" fill="#9e9e9e"/><rect x="1015.34" y="572.7" width="1.65" height="11.3" fill="#a0a0a0"/><rect x="1017.54" y="572.3" width="1.65" height="11.7" fill="#a0a0a0"/><rect x="1019.74" y="572.5" width="1.65" height="11.5" fill="#9c9c9c"/><rect x="1021.93" y="572.0" width="1.65" height="12.0" fill="#a8a8a8"/><rect x="1024.13" y="572.1" width="1.65" height="11.9" fill="#a4a4a4"/><rect x="1026.33" y="572.6" width="1.65" height="11.4" fill="#a8a8a8"/><rect x="1028.53" y="571.8" width="1.65" height="12.2" fill="#9c9c9c"/><rect x="1030.72" y="572.8" width="1.65" height="11.2" fill="#9c9c9c"/><rect x="1032.92" y="573.1" width="1.65" height="10.9" fill="#a8a8a8"/><rect x="1035.12" y="572.9" width="1.65" height="11.1" fill="#a8a8a8"/><rect x="1037.31" y="573.4" width="1.65" height="10.6" fill="#a0a0a0"/><rect x="1039.51" y="573.2" width="1.65" height="10.8" fill="#9e9e9e"/><rect x="1041.71" y="572.9" width="1.65" height="11.1" fill="#a0a0a0"/><rect x="1043.91" y="573.2" width="1.65" height="10.8" fill="#9c9c9c"/><rect x="1046.10" y="573.4" width="1.65" height="10.6" fill="#a4a4a4"/><rect x="1048.30" y="574.0" width="1.65" height="10.0" fill="#9e9e9e"/><rect x="1050.50" y="574.2" width="1.65" height="9.8" fill="#a4a4a4"/><rect x="1052.69" y="573.9" width="1.65" height="10.1" fill="#a0a0a0"/><rect x="1054.89" y="574.4" width="1.65" height="9.6" fill="#a0a0a0"/><rect x="1057.09" y="574.7" width="1.65" height="9.3" fill="#a0a0a0"/><rect x="1059.29" y="574.8" width="1.65" height="9.2" fill="#9e9e9e"/><rect x="1061.48" y="575.1" width="1.65" height="8.9" fill="#9c9c9c"/><rect x="1063.68" y="575.0" width="1.65" height="9.0" fill="#a0a0a0"/><rect x="1065.88" y="575.1" width="1.65" height="8.9" fill="#a0a0a0"/><rect x="1068.08" y="575.2" width="1.65" height="8.8" fill="#9c9c9c"/><rect x="1070.27" y="575.5" width="1.65" height="8.5" fill="#9c9c9c"/><rect x="1072.47" y="576.4" width="1.65" height="7.6" fill="#a8a8a8"/><rect x="1074.67" y="576.2" width="1.65" height="7.8" fill="#a0a0a0"/><rect x="1076.86" y="576.6" width="1.65" height="7.4" fill="#a4a4a4"/><rect x="1079.06" y="573.6" width="1.65" height="10.4" fill="#a4a4a4"/><rect x="1081.26" y="572.7" width="1.65" height="11.3" fill="#9c9c9c"/><rect x="1083.46" y="572.8" width="1.65" height="11.2" fill="#9e9e9e"/><rect x="1085.65" y="572.8" width="1.65" height="11.2" fill="#9c9c9c"/><rect x="1087.85" y="572.4" width="1.65" height="11.6" fill="#a0a0a0"/><rect x="1090.05" y="570.9" width="1.65" height="13.1" fill="#a4a4a4"/><rect x="1092.24" y="569.7" width="1.65" height="14.3" fill="#9c9c9c"/><rect x="1094.44" y="570.2" width="1.65" height="13.8" fill="#9e9e9e"/><rect x="1096.64" y="569.2" width="1.65" height="14.8" fill="#a4a4a4"/><rect x="1098.84" y="569.9" width="1.65" height="14.1" fill="#a4a4a4"/><rect x="1101.03" y="569.7" width="1.65" height="14.3" fill="#9c9c9c"/><rect x="1103.23" y="569.9" width="1.65" height="14.1" fill="#a4a4a4"/><rect x="1105.43" y="563.4" width="1.65" height="20.6" fill="#a0a0a0"/><rect x="1107.62" y="545.2" width="1.65" height="38.8" fill="#a4a4a4"/><rect x="1109.82" y="541.5" width="1.65" height="42.5" fill="#a4a4a4"/><rect x="1112.02" y="538.7" width="1.65" height="45.3" fill="#a4a4a4"/><rect x="1114.22" y="532.0" width="1.65" height="52.0" fill="#9c9c9c"/><rect x="1116.41" y="518.3" width="1.65" height="65.7" fill="#9e9e9e"/><rect x="1118.61" y="520.2" width="1.65" height="63.8" fill="#a8a8a8"/><rect x="1120.81" y="521.9" width="1.65" height="62.1" fill="#a8a8a8"/><rect x="1123.01" y="516.1" width="1.65" height="67.9" fill="#a0a0a0"/><rect x="1125.20" y="516.1" width="1.65" height="67.9" fill="#9c9c9c"/><rect x="1127.40" y="517.9" width="1.65" height="66.1" fill="#a8a8a8"/><rect x="1129.60" y="515.6" width="1.65" height="68.4" fill="#a8a8a8"/><rect x="1131.79" y="512.9" width="1.65" height="71.1" fill="#a4a4a4"/><rect x="1133.99" y="516.8" width="1.65" height="67.2" fill="#9c9c9c"/><rect x="1136.19" y="513.3" width="1.65" height="70.7" fill="#9e9e9e"/><rect x="1138.39" y="507.6" width="1.65" height="76.4" fill="#a8a8a8"/><rect x="1140.58" y="509.9" width="1.65" height="74.1" fill="#a4a4a4"/><rect x="1142.78" y="508.7" width="1.65" height="75.3" fill="#a8a8a8"/><rect x="1144.98" y="509.4" width="1.65" height="74.6" fill="#a0a0a0"/><rect x="1147.18" y="510.1" width="1.65" height="73.9" fill="#a8a8a8"/><rect x="1149.37" y="513.0" width="1.65" height="71.0" fill="#a8a8a8"/><rect x="1151.57" y="515.6" width="1.65" height="68.4" fill="#9c9c9c"/><rect x="1153.77" y="512.4" width="1.65" height="71.6" fill="#a4a4a4"/><rect x="1155.96" y="511.5" width="1.65" height="72.5" fill="#a0a0a0"/><rect x="1158.16" y="514.7" width="1.65" height="69.3" fill="#9c9c9c"/><rect x="1160.36" y="522.4" width="1.65" height="61.6" fill="#a8a8a8"/><rect x="1162.56" y="532.4" width="1.65" height="51.6" fill="#9e9e9e"/><rect x="1164.75" y="533.1" width="1.65" height="50.9" fill="#9e9e9e"/><rect x="1166.95" y="542.0" width="1.65" height="42.0" fill="#a4a4a4"/><rect x="1169.15" y="547.0" width="1.65" height="37.0" fill="#9e9e9e"/><rect x="1171.34" y="552.9" width="1.65" height="31.1" fill="#9c9c9c"/><rect x="1173.54" y="554.2" width="1.65" height="29.8" fill="#a8a8a8"/><rect x="1175.74" y="552.9" width="1.65" height="31.1" fill="#a0a0a0"/><rect x="1177.94" y="554.0" width="1.65" height="30.0" fill="#9c9c9c"/><rect x="1180.13" y="552.6" width="1.65" height="31.4" fill="#a8a8a8"/><rect x="1182.33" y="556.5" width="1.65" height="27.5" fill="#9e9e9e"/><rect x="1184.53" y="555.7" width="1.65" height="28.3" fill="#a8a8a8"/><rect x="1186.73" y="558.9" width="1.65" height="25.1" fill="#9e9e9e"/><rect x="1188.92" y="558.3" width="1.65" height="25.7" fill="#a0a0a0"/><rect x="1191.12" y="559.2" width="1.65" height="24.8" fill="#a0a0a0"/><rect x="1193.32" y="560.0" width="1.65" height="24.0" fill="#9e9e9e"/><rect x="1195.51" y="560.2" width="1.65" height="23.8" fill="#a8a8a8"/><rect x="1197.71" y="561.4" width="1.65" height="22.6" fill="#a0a0a0"/><rect x="1199.91" y="560.7" width="1.65" height="23.3" fill="#9e9e9e"/><rect x="1202.11" y="559.9" width="1.65" height="24.1" fill="#a4a4a4"/><rect x="1204.30" y="559.9" width="1.65" height="24.1" fill="#a0a0a0"/><rect x="1206.50" y="557.8" width="1.65" height="26.2" fill="#a0a0a0"/><rect x="1208.70" y="560.1" width="1.65" height="23.9" fill="#9e9e9e"/><rect x="1210.89" y="559.8" width="1.65" height="24.2" fill="#9c9c9c"/><rect x="1213.09" y="562.7" width="1.65" height="21.3" fill="#a4a4a4"/><rect x="1215.29" y="583.5" width="1.65" height="0.5" fill="#9e9e9e"/><rect x="1217.49" y="564.2" width="1.65" height="19.8" fill="#a4a4a4"/><rect x="1219.68" y="564.0" width="1.65" height="20.0" fill="#a4a4a4"/><rect x="1221.88" y="565.4" width="1.65" height="18.6" fill="#a8a8a8"/><rect x="1224.08" y="566.9" width="1.65" height="17.1" fill="#a4a4a4"/><rect x="1226.28" y="567.5" width="1.65" height="16.5" fill="#a8a8a8"/><rect x="1228.47" y="568.6" width="1.65" height="15.4" fill="#9c9c9c"/><rect x="1230.67" y="568.5" width="1.65" height="15.5" fill="#a8a8a8"/><rect x="1232.87" y="569.0" width="1.65" height="15.0" fill="#a8a8a8"/><rect x="1235.06" y="568.9" width="1.65" height="15.1" fill="#a8a8a8"/><rect x="1237.26" y="569.5" width="1.65" height="14.5" fill="#a8a8a8"/><rect x="1239.46" y="571.5" width="1.65" height="12.5" fill="#9c9c9c"/><rect x="1241.66" y="571.9" width="1.65" height="12.1" fill="#a8a8a8"/><rect x="1243.85" y="578.8" width="1.65" height="5.2" fill="#a8a8a8"/><rect x="1246.05" y="579.0" width="1.65" height="5.0" fill="#9c9c9c"/><rect x="1248.25" y="577.0" width="1.65" height="7.0" fill="#a0a0a0"/><rect x="1250.44" y="571.5" width="1.65" height="12.5" fill="#a4a4a4"/><rect x="1252.64" y="570.6" width="1.65" height="13.4" fill="#9e9e9e"/><rect x="1254.84" y="571.5" width="1.65" height="12.5" fill="#9e9e9e"/><rect x="1257.04" y="572.0" width="1.65" height="12.0" fill="#a0a0a0"/><rect x="1259.23" y="569.9" width="1.65" height="14.1" fill="#9c9c9c"/><rect x="1261.43" y="568.5" width="1.65" height="15.5" fill="#9c9c9c"/><rect x="1263.63" y="569.7" width="1.65" height="14.3" fill="#a8a8a8"/><rect x="1265.83" y="570.7" width="1.65" height="13.3" fill="#a0a0a0"/><rect x="1268.02" y="575.0" width="1.65" height="9.0" fill="#a0a0a0"/><rect x="1270.22" y="575.6" width="1.65" height="8.4" fill="#a4a4a4"/><rect x="1272.42" y="567.6" width="1.65" height="16.4" fill="#a4a4a4"/><rect x="1274.61" y="567.9" width="1.65" height="16.1" fill="#9e9e9e"/><rect x="1276.81" y="567.2" width="1.65" height="16.8" fill="#a8a8a8"/><rect x="1279.01" y="567.3" width="1.65" height="16.7" fill="#9e9e9e"/><rect x="1281.21" y="565.9" width="1.65" height="18.1" fill="#a8a8a8"/><rect x="1283.40" y="567.2" width="1.65" height="16.8" fill="#a4a4a4"/><rect x="1285.60" y="566.5" width="1.65" height="17.5" fill="#a0a0a0"/><rect x="1287.80" y="567.0" width="1.65" height="17.0" fill="#9c9c9c"/><rect x="1289.99" y="567.0" width="1.65" height="17.0" fill="#a8a8a8"/><rect x="1292.19" y="564.8" width="1.65" height="19.2" fill="#a4a4a4"/><rect x="1294.39" y="563.7" width="1.65" height="20.3" fill="#a8a8a8"/><rect x="1296.59" y="564.8" width="1.65" height="19.2" fill="#a4a4a4"/><rect x="1298.78" y="564.9" width="1.65" height="19.1" fill="#9e9e9e"/><rect x="1300.98" y="565.0" width="1.65" height="19.0" fill="#a4a4a4"/><rect x="1303.18" y="563.2" width="1.65" height="20.8" fill="#a8a8a8"/><rect x="1305.38" y="564.0" width="1.65" height="20.0" fill="#9e9e9e"/><rect x="1307.57" y="563.7" width="1.65" height="20.3" fill="#9c9c9c"/><rect x="1309.77" y="564.6" width="1.65" height="19.4" fill="#9e9e9e"/><rect x="1311.97" y="563.8" width="1.65" height="20.2" fill="#a8a8a8"/><rect x="1314.16" y="563.6" width="1.65" height="20.4" fill="#a4a4a4"/><rect x="1316.36" y="564.6" width="1.65" height="19.4" fill="#a4a4a4"/><rect x="1318.56" y="563.9" width="1.65" height="20.1" fill="#a4a4a4"/><rect x="1320.76" y="565.7" width="1.65" height="18.3" fill="#9c9c9c"/><rect x="1322.95" y="570.9" width="1.65" height="13.1" fill="#a0a0a0"/><rect x="1325.15" y="565.2" width="1.65" height="18.8" fill="#9c9c9c"/><rect x="1327.35" y="565.8" width="1.65" height="18.2" fill="#9e9e9e"/><rect x="1329.54" y="567.1" width="1.65" height="16.9" fill="#9e9e9e"/><rect x="1331.74" y="570.9" width="1.65" height="13.1" fill="#a4a4a4"/><rect x="1333.94" y="564.1" width="1.65" height="19.9" fill="#9c9c9c"/><rect x="1336.14" y="565.1" width="1.65" height="18.9" fill="#a4a4a4"/><rect x="1338.33" y="564.4" width="1.65" height="19.6" fill="#a8a8a8"/><rect x="1340.53" y="564.8" width="1.65" height="19.2" fill="#a4a4a4"/><rect x="1342.73" y="563.8" width="1.65" height="20.2" fill="#a0a0a0"/><rect x="1344.93" y="552.7" width="1.65" height="31.3" fill="#9e9e9e"/><rect x="1347.12" y="552.1" width="1.65" height="31.9" fill="#9c9c9c"/><rect x="1349.32" y="553.9" width="1.65" height="30.1" fill="#9e9e9e"/><rect x="1351.52" y="552.9" width="1.65" height="31.1" fill="#9c9c9c"/><rect x="1353.71" y="552.3" width="1.65" height="31.7" fill="#9e9e9e"/><rect x="1355.91" y="553.2" width="1.65" height="30.8" fill="#9e9e9e"/><rect x="1358.11" y="552.9" width="1.65" height="31.1" fill="#a0a0a0"/><rect x="1360.31" y="553.1" width="1.65" height="30.9" fill="#9e9e9e"/><rect x="1362.50" y="551.1" width="1.65" height="32.9" fill="#a0a0a0"/><rect x="1364.70" y="553.2" width="1.65" height="30.8" fill="#a0a0a0"/><rect x="1366.90" y="551.3" width="1.65" height="32.7" fill="#a8a8a8"/><rect x="1369.09" y="553.2" width="1.65" height="30.8" fill="#a0a0a0"/><rect x="1371.29" y="550.8" width="1.65" height="33.2" fill="#a4a4a4"/><rect x="1373.49" y="552.3" width="1.65" height="31.7" fill="#a4a4a4"/><rect x="1375.69" y="550.6" width="1.65" height="33.4" fill="#9c9c9c"/><rect x="1377.88" y="551.7" width="1.65" height="32.3" fill="#9e9e9e"/><rect x="1380.08" y="551.0" width="1.65" height="33.0" fill="#9e9e9e"/><rect x="1382.28" y="551.8" width="1.65" height="32.2" fill="#a8a8a8"/><rect x="1384.48" y="552.0" width="1.65" height="32.0" fill="#9e9e9e"/><rect x="1386.67" y="551.6" width="1.65" height="32.4" fill="#a0a0a0"/><rect x="1388.87" y="553.5" width="1.65" height="30.5" fill="#9c9c9c"/><rect x="1391.07" y="553.9" width="1.65" height="30.1" fill="#9e9e9e"/><rect x="1393.26" y="554.1" width="1.65" height="29.9" fill="#a0a0a0"/><rect x="1395.46" y="553.4" width="1.65" height="30.6" fill="#9c9c9c"/><rect x="1397.66" y="551.4" width="1.65" height="32.6" fill="#9c9c9c"/><rect x="1399.86" y="563.2" width="1.65" height="20.8" fill="#9e9e9e"/><rect x="1402.05" y="561.8" width="1.65" height="22.2" fill="#a0a0a0"/><rect x="1404.25" y="562.9" width="1.65" height="21.1" fill="#a0a0a0"/><rect x="1406.45" y="562.1" width="1.65" height="21.9" fill="#9e9e9e"/><rect x="1408.64" y="561.8" width="1.65" height="22.2" fill="#a8a8a8"/><rect x="1410.84" y="563.5" width="1.65" height="20.5" fill="#a0a0a0"/><rect x="1413.04" y="564.1" width="1.65" height="19.9" fill="#9c9c9c"/><rect x="1415.24" y="564.6" width="1.65" height="19.4" fill="#9c9c9c"/><rect x="1417.43" y="563.3" width="1.65" height="20.7" fill="#a8a8a8"/><rect x="1419.63" y="563.9" width="1.65" height="20.1" fill="#9c9c9c"/><rect x="1421.83" y="564.6" width="1.65" height="19.4" fill="#a8a8a8"/><rect x="1424.03" y="563.9" width="1.65" height="20.1" fill="#a8a8a8"/><rect x="1426.22" y="565.3" width="1.65" height="18.7" fill="#a8a8a8"/><rect x="1428.42" y="565.1" width="1.65" height="18.9" fill="#9c9c9c"/><rect x="1430.62" y="564.5" width="1.65" height="19.5" fill="#9c9c9c"/><rect x="1432.81" y="564.3" width="1.65" height="19.7" fill="#a4a4a4"/><rect x="1435.01" y="562.8" width="1.65" height="21.2" fill="#a4a4a4"/><rect x="1437.21" y="562.9" width="1.65" height="21.1" fill="#a8a8a8"/><rect x="1439.41" y="562.8" width="1.65" height="21.2" fill="#9e9e9e"/><rect x="1441.60" y="563.9" width="1.65" height="20.1" fill="#a4a4a4"/><rect x="1443.80" y="565.3" width="1.65" height="18.7" fill="#a0a0a0"/><rect x="1446.00" y="566.8" width="1.65" height="17.2" fill="#9e9e9e"/><rect x="1448.19" y="567.0" width="1.65" height="17.0" fill="#a4a4a4"/><rect x="1450.39" y="565.4" width="1.65" height="18.6" fill="#a0a0a0"/><rect x="1452.59" y="565.3" width="1.65" height="18.7" fill="#a4a4a4"/><rect x="1454.79" y="567.4" width="1.65" height="16.6" fill="#a8a8a8"/><rect x="1456.98" y="567.4" width="1.65" height="16.6" fill="#a0a0a0"/><rect x="1459.18" y="567.3" width="1.65" height="16.7" fill="#9e9e9e"/><rect x="1461.38" y="567.2" width="1.65" height="16.8" fill="#9e9e9e"/><rect x="1463.58" y="566.8" width="1.65" height="17.2" fill="#9c9c9c"/><rect x="1465.77" y="567.2" width="1.65" height="16.8" fill="#a0a0a0"/><rect x="1467.97" y="567.0" width="1.65" height="17.0" fill="#a4a4a4"/><rect x="1470.17" y="566.6" width="1.65" height="17.4" fill="#a8a8a8"/><rect x="1472.36" y="566.9" width="1.65" height="17.1" fill="#9c9c9c"/><rect x="1474.56" y="567.0" width="1.65" height="17.0" fill="#a0a0a0"/><rect x="1476.76" y="567.7" width="1.65" height="16.3" fill="#9c9c9c"/><rect x="1478.96" y="566.3" width="1.65" height="17.7" fill="#9e9e9e"/><rect x="1481.15" y="564.0" width="1.65" height="20.0" fill="#a4a4a4"/><rect x="1483.35" y="563.9" width="1.65" height="20.1" fill="#9c9c9c"/><rect x="1485.55" y="565.7" width="1.65" height="18.3" fill="#a0a0a0"/><rect x="1487.74" y="564.6" width="1.65" height="19.4" fill="#9c9c9c"/><rect x="1489.94" y="566.0" width="1.65" height="18.0" fill="#9c9c9c"/><rect x="1492.14" y="568.4" width="1.65" height="15.6" fill="#9e9e9e"/><rect x="1494.34" y="566.2" width="1.65" height="17.8" fill="#a0a0a0"/><rect x="1496.53" y="565.5" width="1.65" height="18.5" fill="#9e9e9e"/><rect x="1498.73" y="565.4" width="1.65" height="18.6" fill="#9c9c9c"/><rect x="1500.93" y="565.2" width="1.65" height="18.8" fill="#a8a8a8"/><rect x="1503.13" y="565.9" width="1.65" height="18.1" fill="#a0a0a0"/><rect x="1505.32" y="565.1" width="1.65" height="18.9" fill="#9c9c9c"/><rect x="1507.52" y="565.4" width="1.65" height="18.6" fill="#9c9c9c"/><rect x="1509.72" y="563.9" width="1.65" height="20.1" fill="#a4a4a4"/><rect x="1511.91" y="564.5" width="1.65" height="19.5" fill="#a0a0a0"/><rect x="1514.11" y="564.0" width="1.65" height="20.0" fill="#a0a0a0"/><rect x="1516.31" y="562.1" width="1.65" height="21.9" fill="#a4a4a4"/><rect x="1518.51" y="561.8" width="1.65" height="22.2" fill="#9c9c9c"/><rect x="1520.70" y="561.9" width="1.65" height="22.1" fill="#a4a4a4"/><rect x="1522.90" y="562.6" width="1.65" height="21.4" fill="#a4a4a4"/><rect x="1525.10" y="557.7" width="1.65" height="26.3" fill="#9e9e9e"/><rect x="1527.29" y="557.8" width="1.65" height="26.2" fill="#a4a4a4"/><rect x="1529.49" y="557.5" width="1.65" height="26.5" fill="#9c9c9c"/><rect x="1531.69" y="557.0" width="1.65" height="27.0" fill="#9c9c9c"/><rect x="1533.89" y="557.6" width="1.65" height="26.4" fill="#9c9c9c"/><rect x="1536.08" y="556.4" width="1.65" height="27.6" fill="#9c9c9c"/><rect x="1538.28" y="553.3" width="1.65" height="30.7" fill="#a0a0a0"/><rect x="1540.48" y="549.0" width="1.65" height="35.0" fill="#9c9c9c"/><rect x="1542.68" y="546.1" width="1.65" height="37.9" fill="#a4a4a4"/><rect x="1544.87" y="544.4" width="1.65" height="39.6" fill="#9c9c9c"/><rect x="1547.07" y="543.0" width="1.65" height="41.0" fill="#a4a4a4"/><rect x="1549.27" y="540.8" width="1.65" height="43.2" fill="#9c9c9c"/><rect x="1551.46" y="540.3" width="1.65" height="43.7" fill="#a8a8a8"/><rect x="1553.66" y="537.2" width="1.65" height="46.8" fill="#a0a0a0"/><rect x="1555.86" y="529.4" width="1.65" height="54.6" fill="#9e9e9e"/><rect x="1558.06" y="528.3" width="1.65" height="55.7" fill="#9e9e9e"/><rect x="1560.25" y="527.3" width="1.65" height="56.7" fill="#a0a0a0"/><rect x="1562.45" y="527.2" width="1.65" height="56.8" fill="#a0a0a0"/><rect x="1564.65" y="524.0" width="1.65" height="60.0" fill="#a0a0a0"/><rect x="1566.84" y="528.3" width="1.65" height="55.7" fill="#9c9c9c"/><rect x="1569.04" y="526.7" width="1.65" height="57.3" fill="#9c9c9c"/><rect x="1571.24" y="529.2" width="1.65" height="54.8" fill="#9e9e9e"/><rect x="1573.44" y="527.5" width="1.65" height="56.5" fill="#a4a4a4"/><rect x="1575.63" y="529.8" width="1.65" height="54.2" fill="#a8a8a8"/><rect x="1577.83" y="526.5" width="1.65" height="57.5" fill="#9c9c9c"/><rect x="1580.03" y="531.0" width="1.65" height="53.0" fill="#9c9c9c"/><rect x="1582.23" y="532.6" width="1.65" height="51.4" fill="#a4a4a4"/><rect x="1584.42" y="533.1" width="1.65" height="50.9" fill="#9e9e9e"/><rect x="1586.62" y="531.9" width="1.65" height="52.1" fill="#a8a8a8"/><rect x="1588.82" y="530.9" width="1.65" height="53.1" fill="#a0a0a0"/><rect x="1591.01" y="533.2" width="1.65" height="50.8" fill="#a0a0a0"/><rect x="1593.21" y="538.9" width="1.65" height="45.1" fill="#9e9e9e"/><rect x="1595.41" y="540.6" width="1.65" height="43.4" fill="#a4a4a4"/><rect x="1597.61" y="541.9" width="1.65" height="42.1" fill="#9e9e9e"/><rect x="1599.80" y="547.6" width="1.65" height="36.4" fill="#a8a8a8"/></g>
<polyline points="20.1,374.8 27.1,374.0 29.0,372.0 37.3,372.4 39.9,363.8 48.1,365.7 53.2,367.2 57.1,369.5 62.2,370.1 67.2,378.4 73.6,379.9 76.2,386.1 78.7,390.9 81.3,392.4 83.8,401.3 87.6,402.9 91.5,386.1 94.0,383.5 101.7,382.2 106.8,384.8 109.9,384.1 111.9,387.3 115.7,389.2 118.2,388.6 120.1,369.5 125.9,369.5 127.1,372.7 129.1,368.2 131.6,348.5 134.2,358.7 137.3,359.6 142.4,358.7 151.4,357.8 157.7,359.3 166.6,358.3 167.9,358.7 171.1,352.3 172.4,355.5 173.7,367.6 178.1,368.2 180.7,366.3 183.2,366.9 187.2,369.3 191.1,384.4 193.5,378.8 196.7,378.8 200.7,370.9 207.1,366.1 213.4,369.3 215.8,377.2 219.8,376.4 223.0,359.2 227.0,365.3 230.9,366.9 237.3,370.9 242.1,365.0 250.0,366.6 254.8,354.6 259.6,356.1 266.0,356.5 272.3,358.1 277.1,354.5 284.3,354.9 285.9,334.2 288.2,334.2 290.6,312.7 292.2,323.1 294.6,320.7 297.8,335.0 301.8,330.3 310.5,331.1 314.5,322.3 320.9,327.9 323.3,337.9 329.6,336.9 334.4,340.6 342.4,342.2 346.3,338.2 353.0,337.9 356.5,339.0 359.3,323.5 362.8,323.5 365.4,336.3 368.9,337.4 373.7,337.4 376.0,329.1 380.8,325.4 386.4,327.8 391.2,334.7 395.9,339.5 400.7,338.7 403.9,339.5 407.9,343.8 411.9,344.7 416.6,346.9 422.2,348.5 425.4,337.9 428.6,336.3 438.9,337.1 443.7,339.0 450.1,338.3 454.8,337.4 457.2,338.7 461.2,353.0 467.6,354.3 477.1,354.6 480.3,357.8 485.1,370.5 488.3,378.5 495.4,380.9 500.2,371.3 501.8,372.1 503.4,393.6 505.8,385.6 510.6,384.8 516.4,384.1 519.6,379.7 527.2,377.8 529.1,374.8 536.8,375.9 541.9,378.2 545.7,376.5 550.8,370.8 556.5,375.6 562.9,371.0 567.3,375.5 575.0,374.6 578.2,364.1 581.4,364.6 587.1,370.5 589.6,368.0 596.7,370.5 600.5,366.3 606.2,364.4 610.7,367.2 615.8,369.5 619.0,369.2 622.8,371.4 626.0,369.7 632.3,373.6 634.9,372.0 638.7,373.3 642.5,368.0 646.4,368.5 650.2,366.9 654.0,368.9 658.5,372.0 665.5,368.2 673.1,365.9 679.0,366.0 684.6,370.0 688.5,367.6 694.9,368.4 698.1,372.0 702.9,366.8 709.2,366.0 713.2,363.6 717.2,359.6 722.8,360.4 725.9,359.6 729.9,350.1 733.9,344.5 738.7,340.5 743.5,346.1 748.2,344.5 750.6,340.8 757.8,339.2 761.0,343.7 763.3,343.4 768.1,335.7 773.7,338.1 780.1,322.2 786.4,324.6 791.2,321.1 793.6,321.1 796.0,316.9 799.2,321.7 804.7,320.6 809.5,327.8 813.5,343.7 815.9,359.6 819.9,344.5 822.2,310.3 827.0,323.0 831.0,303.9 833.4,313.4 839.8,301.5 844.0,306.9 846.4,314.0 848.8,316.4 852.7,326.8 856.7,325.2 859.9,318.0 865.5,322.0 868.7,308.5 870.2,310.1 874.2,298.6 879.0,305.0 882.2,299.7 889.3,295.7 892.5,301.3 894.9,296.1 899.7,297.3 902.9,313.2 906.9,310.9 910.8,315.6 914.0,323.6 917.2,320.4 922.8,330.0 928.3,318.0 932.3,316.8 936.3,313.2 942.7,309.3 945.9,314.8 949.8,314.5 954.6,318.8 958.6,308.8 962.6,316.8 967.3,302.9 970.5,302.9 974.5,293.3 976.9,287.5 982.5,287.0 985.7,280.6 988.8,274.2 993.6,255.9 996.0,263.9 999.2,265.2 1002.4,267.9 1004.8,271.1 1009.1,266.3 1013.3,256.9 1018.5,267.3 1022.6,264.8 1025.7,265.6 1028.8,271.4 1033.0,291.1 1037.1,267.3 1041.2,264.8 1045.4,264.2 1047.5,261.1 1054.7,260.0 1059.9,261.1 1063.0,267.3 1071.3,264.8 1073.3,264.8 1076.4,259.0 1079.5,256.5 1081.6,237.3 1085.8,244.5 1087.8,236.7 1093.0,235.8 1096.1,241.4 1101.3,260.0 1104.4,256.9 1106.5,248.7 1108.5,213.5 1111.6,199.0 1114.8,199.0 1117.9,178.3 1121.0,205.2 1124.1,200.6 1126.1,203.1 1129.2,221.7 1132.4,208.3 1137.5,194.8 1143.7,192.4 1146.9,195.9 1151.0,210.4 1154.1,195.9 1160.3,187.6 1165.5,215.5 1170.7,218.6 1171.9,217.2 1174.5,224.6 1176.4,226.5 1178.3,237.3 1180.8,215.0 1183.4,222.7 1187.8,242.4 1191.0,229.0 1193.6,226.5 1195.5,218.9 1199.9,230.3 1202.5,216.3 1206.3,216.9 1208.9,221.4 1210.8,205.5 1217.2,205.7 1220.3,210.6 1224.8,213.4 1228.6,217.6 1230.9,225.9 1233.1,224.6 1237.5,226.9 1240.1,223.9 1245.2,220.8 1247.7,222.7 1250.9,206.8 1254.1,220.8 1257.3,227.1 1263.0,226.9 1268.1,220.8 1271.3,219.2 1274.5,212.9 1279.6,221.4 1282.1,222.7 1286.0,225.9 1293.0,216.7 1296.2,217.6 1300.0,220.1 1303.8,227.8 1309.5,215.7 1312.7,220.8 1318.5,221.4 1321.6,225.9 1327.4,217.6 1329.9,221.0 1332.5,218.2 1335.7,205.5 1336.9,204.3 1339.5,202.4 1342.0,196.1 1345.2,191.6 1349.0,180.1 1352.2,186.1 1355.4,181.4 1358.6,178.9 1362.4,166.8 1365.6,168.7 1369.4,173.8 1372.6,170.6 1375.8,167.4 1379.0,170.6 1383.4,172.1 1387.2,171.2 1389.2,185.2 1391.7,186.1 1395.9,191.6 1399.4,183.3 1402.5,175.9 1406.4,180.5 1408.9,178.9 1411.5,182.3 1414.6,180.1 1421.0,181.4 1424.8,178.2 1426.8,178.9 1429.3,176.7 1432.5,177.6 1437.0,177.6 1443.3,175.9 1447.1,176.3 1452.2,180.5 1454.8,185.9 1461.2,185.9 1463.1,182.7 1466.3,181.4 1468.8,181.0 1470.7,177.6 1473.9,180.5 1477.7,176.3 1481.6,175.9 1486.0,173.8 1490.5,175.9 1494.9,175.7 1496.8,160.4 1498.8,160.4 1501.4,164.4 1503.9,161.2 1506.5,161.2 1509.6,157.2 1512.8,163.8 1515.4,157.4 1518.6,147.2 1521.1,149.1 1526.2,146.0 1528.8,143.2 1531.3,142.1 1533.2,136.4 1535.8,133.9 1538.3,128.8 1540.2,126.8 1542.1,117.3 1546.0,106.7 1548.5,130.0 1550.4,129.4 1553.0,103.3 1554.9,115.4 1557.2,148.5 1559.7,121.1 1561.2,129.4 1564.4,130.0 1568.2,142.8 1570.2,143.2 1572.7,147.9 1575.3,146.0 1578.8,139.0 1583.5,152.1 1587.4,143.4 1589.9,150.4 1592.5,151.1 1595.0,154.2 1598.2,151.1 1601.4,158.1" fill="none" stroke="#8cbae6" stroke-width="2.2" stroke-linejoin="round" stroke-linecap="round"/>
<rect x="20" y="584" width="1582" height="1" fill="#ccd6eb"/>
<rect x="31.0" y="584" width="1" height="11" fill="#ccd6eb"/>
<rect x="136.6" y="584" width="1" height="11" fill="#ccd6eb"/>
<rect x="242.1" y="584" width="1" height="11" fill="#ccd6eb"/>
<rect x="347.7" y="584" width="1" height="11" fill="#ccd6eb"/>
<rect x="453.2" y="584" width="1" height="11" fill="#ccd6eb"/>
<rect x="558.8" y="584" width="1" height="11" fill="#ccd6eb"/>
<rect x="664.4" y="584" width="1" height="11" fill="#ccd6eb"/>
<rect x="769.9" y="584" width="1" height="11" fill="#ccd6eb"/>
<rect x="875.5" y="584" width="1" height="11" fill="#ccd6eb"/>
<rect x="981.0" y="584" width="1" height="11" fill="#ccd6eb"/>
<rect x="1086.6" y="584" width="1" height="11" fill="#ccd6eb"/>
<rect x="1192.2" y="584" width="1" height="11" fill="#ccd6eb"/>
<rect x="1297.7" y="584" width="1" height="11" fill="#ccd6eb"/>
<rect x="1403.3" y="584" width="1" height="11" fill="#ccd6eb"/>
<rect x="1508.8" y="584" width="1" height="11" fill="#ccd6eb"/>
<text x="19.5" y="607.7" font-size="14" fill="#666">20. Oct</text>
<text x="137.1" y="607.7" font-size="14" fill="#666" text-anchor="middle">22. Oct</text>
<text x="242.6" y="607.7" font-size="14" fill="#666" text-anchor="middle">24. Oct</text>
<text x="348.2" y="607.7" font-size="14" fill="#666" text-anchor="middle">26. Oct</text>
<text x="453.7" y="607.7" font-size="14" fill="#666" text-anchor="middle">28. Oct</text>
<text x="559.3" y="607.7" font-size="14" fill="#666" text-anchor="middle">30. Oct</text>
<text x="664.9" y="607.7" font-size="14" fill="#666" text-anchor="middle">1. Nov</text>
<text x="770.4" y="607.7" font-size="14" fill="#666" text-anchor="middle">3. Nov</text>
<text x="876.0" y="607.7" font-size="14" fill="#666" text-anchor="middle">5. Nov</text>
<text x="981.5" y="607.7" font-size="14" fill="#666" text-anchor="middle">7. Nov</text>
<text x="1087.1" y="607.7" font-size="14" fill="#666" text-anchor="middle">9. Nov</text>
<text x="1192.7" y="607.7" font-size="14" fill="#666" text-anchor="middle">11. Nov</text>
<text x="1298.2" y="607.7" font-size="14" fill="#666" text-anchor="middle">13. Nov</text>
<text x="1403.8" y="607.7" font-size="14" fill="#666" text-anchor="middle">15. Nov</text>
<text x="1509.3" y="607.7" font-size="14" fill="#666" text-anchor="middle">17. Nov</text>
</svg>
</body></html>
